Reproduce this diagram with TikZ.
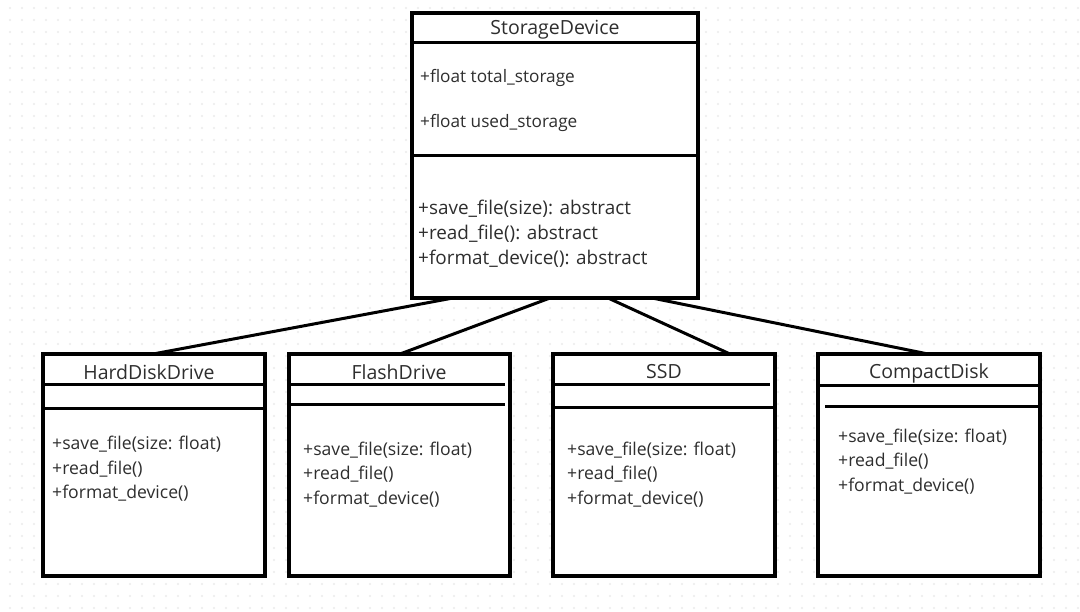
\documentclass[tikz,border=0pt]{standalone}
\usepackage{fontspec}
\setmainfont{Open Sans}
\usetikzlibrary{calc}
\definecolor{txt}{HTML}{2E2E2E}
\begin{document}
\begin{tikzpicture}[x=1pt,y=-1pt,
 box/.style={draw=black,line width=3.2pt,fill=white,anchor=north west,inner sep=0pt,outer sep=0pt},
 div/.style={line width=3pt},
 conn/.style={line width=3pt},
 title/.style={font=\fontsize{19.5}{22}\selectfont,text=txt,anchor=center,inner sep=0pt},
 mem/.style={font=\fontsize{17.6}{20}\selectfont,text=txt,anchor=west,inner sep=0pt},
 smem/.style={font=\fontsize{18.9}{22}\selectfont,text=txt,anchor=west,inner sep=0pt},
 attr/.style={font=\fontsize{17.2}{20}\selectfont,text=txt,anchor=west,inner sep=0pt}]
\fill[white] (0,0) rectangle (1080,612);
\useasboundingbox (0,0) rectangle (1080,612);
\foreach \i in {0,...,89}{\foreach \j in {0,...,50}{\fill[black!8] (10+12*\i,8+12*\j) circle (1.1);}}
% boxes
\node[box,minimum width=286pt,minimum height=285pt] (sd) at (412,13) {};
\node[box,minimum width=222pt,minimum height=222pt] (hdd) at (43,354) {};
\node[box,minimum width=221pt,minimum height=222pt] (fd) at (289,354) {};
\node[box,minimum width=222pt,minimum height=222pt] (ssd) at (553,354) {};
\node[box,minimum width=222pt,minimum height=222pt] (cd) at (818,354) {};
% connectors
\draw[conn] ([xshift=41pt]sd.south west) -- ([xshift=110pt]hdd.north west);
\draw[conn] ([xshift=138pt]sd.south west) -- ([xshift=111pt]fd.north west);
\draw[conn] ([xshift=196pt]sd.south west) -- ([xshift=177pt]ssd.north west);
\draw[conn] ([xshift=240pt]sd.south west) -- ([xshift=110pt]cd.north west);
% StorageDevice
\draw[div] (412,43) -- (698,43);
\draw[div] (412,156) -- (698,156);
\node[title] (sdn) at (555,30) {StorageDevice};
\node[attr] (sda1) at (420,78) {+float total\_storage};
\node[attr] (sda2) at (420,123) {+float used\_storage};
\node[smem] (sdm1) at (418,209) {+save\_file(size): abstract};
\node[smem] (sdm2) at (418,234) {+read\_file(): abstract};
\node[smem] (sdm3) at (418,259) {+format\_device(): abstract};
% HardDiskDrive
\draw[div] (43,385) -- (265,385);
\draw[div] (43,409) -- (265,409);
\node[title] (hddn) at (149,372) {HardDiskDrive};
\node[mem] (hm1) at (52,444) {+save\_file(size: float)};
\node[mem] (hm2) at (52,469) {+read\_file()};
\node[mem] (hm3) at (52,493) {+format\_device()};
% FlashDrive
\draw[div] (289,385) -- (505,385);
\draw[div] (289,405) -- (505,405);
\node[title] (fdn) at (399,372) {FlashDrive};
\node[mem] (fm1) at (303,450) {+save\_file(size: float)};
\node[mem] (fm2) at (303,474) {+read\_file()};
\node[mem] (fm3) at (303,499) {+format\_device()};
% SSD
\draw[div] (553,385) -- (770,385);
\draw[div] (553,408) -- (775,408);
\node[title] (ssdn) at (664,372) {SSD};
\node[mem] (sm1) at (567,450) {+save\_file(size: float)};
\node[mem] (sm2) at (567,474) {+read\_file()};
\node[mem] (sm3) at (567,499) {+format\_device()};
% CompactDisk
\draw[div] (818,386) -- (1040,386);
\draw[div] (825,407) -- (1040,407);
\node[title] (cdn) at (929,373) {CompactDisk};
\node[mem] (cm1) at (838,437) {+save\_file(size: float)};
\node[mem] (cm2) at (838,461) {+read\_file()};
\node[mem] (cm3) at (838,486) {+format\_device()};
\end{tikzpicture}
\end{document}
